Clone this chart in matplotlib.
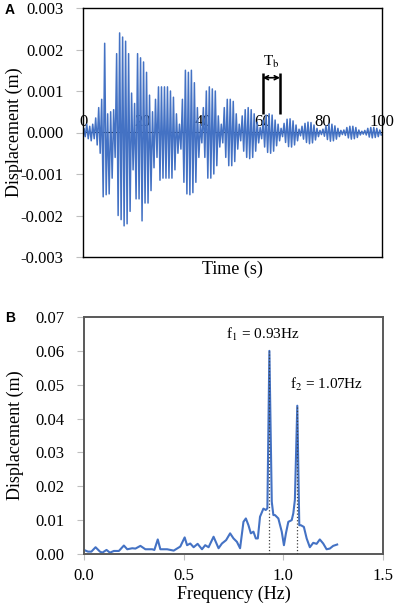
import numpy as np
import matplotlib
matplotlib.use('Agg')
import matplotlib.pyplot as plt
from matplotlib.ticker import FormatStrFormatter

# panel A: peak displacement of each ~1 s cycle (x1e-3 m)
pos_peaks = [0.1, 0.2, 0.15, 0.2, 0.35, 0.6, 0.8, 2.15, 0.45, 0.5,
             0.55, 1.9, 2.4, 2.3, 2.2, 1.9, 0.95, 0.7, 1.9, 1.8,
             1.7, 1.45, 0.9, 0.5, 0.8, 1.1, 1.1, 1.1, 1.1, 1.0,
             0.85, 0.45, 0.2, 0.8, 1.5, 1.45, 1.5, 1.2, 0.6, 0.2,
             0.6, 1.0, 1.1, 1.05, 1.0, 0.4, 0.2, 0.6, 0.8, 0.8,
             0.75, 0.45, 0.2, 0.4, 0.55, 0.6, 0.55, 0.45, 0.25, 0.12,
             0.3, 0.42, 0.45, 0.42, 0.3, 0.2, 0.1, 0.22, 0.32, 0.33,
             0.28, 0.18, 0.08, 0.15, 0.22, 0.25, 0.24, 0.18, 0.1, 0.05,
             0.08, 0.16, 0.2, 0.2, 0.16, 0.1, 0.05, 0.06, 0.12, 0.15,
             0.15, 0.12, 0.06, 0.03, 0.05, 0.1, 0.12, 0.12, 0.1, 0.06]
neg_peaks = [0.1, 0.15, 0.2, 0.15, 0.3, 0.5, 1.55, 1.5, 1.48, 1.1,
             0.6, 2.0, 2.1, 2.25, 2.2, 1.9, 0.9, 1.6, 1.6, 2.13,
             1.7, 1.7, 1.4, 0.85, 0.6, 1.15, 1.1, 1.1, 1.1, 1.1,
             0.9, 0.5, 0.4, 1.2, 1.48, 1.5, 1.45, 1.2, 0.6, 0.25,
             0.6, 1.1, 1.1, 1.0, 0.8, 0.35, 0.25, 0.6, 0.8, 0.8,
             0.7, 0.4, 0.2, 0.45, 0.6, 0.63, 0.6, 0.45, 0.25, 0.15,
             0.35, 0.48, 0.5, 0.45, 0.32, 0.2, 0.1, 0.24, 0.34, 0.35,
             0.3, 0.2, 0.08, 0.16, 0.24, 0.27, 0.25, 0.18, 0.1, 0.05,
             0.09, 0.17, 0.21, 0.2, 0.16, 0.1, 0.05, 0.07, 0.13, 0.16,
             0.15, 0.12, 0.06, 0.04, 0.06, 0.11, 0.13, 0.12, 0.1, 0.06]
tb_start, tb_end = 60.1, 65.9

# panel B: spectrum
freq = [0.0, 0.02, 0.037, 0.058, 0.08, 0.092, 0.113, 0.13, 0.15, 0.175,
        0.2, 0.217, 0.242, 0.258, 0.283, 0.308, 0.342, 0.353, 0.37, 0.383,
        0.417, 0.45, 0.483, 0.505, 0.517, 0.533, 0.55, 0.57, 0.592, 0.608,
        0.625, 0.65, 0.675, 0.692, 0.713, 0.733, 0.75, 0.767, 0.783, 0.8,
        0.812, 0.825, 0.837, 0.85, 0.862, 0.872, 0.883, 0.9, 0.912, 0.92,
        0.93, 0.942, 0.95, 0.958, 0.975, 0.992, 1.003, 1.013, 1.025, 1.042,
        1.05, 1.058, 1.07, 1.08, 1.088, 1.103, 1.117, 1.133, 1.15, 1.167,
        1.183, 1.2, 1.217, 1.233, 1.25, 1.27]
amp = [0.0012, 0.0007, 0.0007, 0.002, 0.0007, 0.0004, 0.0012, 0.0004, 0.0009, 0.0009,
       0.0025, 0.0014, 0.0017, 0.0016, 0.0024, 0.0014, 0.0014, 0.0012, 0.0043, 0.0014,
       0.0014, 0.001, 0.0022, 0.0049, 0.0026, 0.0031, 0.002, 0.003, 0.0014, 0.0026,
       0.002, 0.0051, 0.0017, 0.0031, 0.0041, 0.0061, 0.0046, 0.0036, 0.0017, 0.0095,
       0.0105, 0.0085, 0.0061, 0.0066, 0.0046, 0.0046, 0.011, 0.0134, 0.013, 0.0135,
       0.060, 0.0154, 0.0115, 0.0115, 0.0105, 0.0066, 0.0026, 0.0061, 0.0095, 0.01,
       0.012, 0.016, 0.0438, 0.0085, 0.0085, 0.008, 0.0046, 0.002, 0.0033, 0.003,
       0.0043, 0.0031, 0.0014, 0.0016, 0.0024, 0.0028]
f_peaks = [0.93, 1.07]
f_peak_amp = [0.060, 0.0438]

plt.rcParams['font.family'] = 'Liberation Serif'
plt.rcParams['mathtext.fontset'] = 'stix'
plt.rcParams['axes.unicode_minus'] = False

blue = '#4472C4'
fig = plt.figure(figsize=(3.97, 6.10), dpi=100)

# ---- A ----
axA = fig.add_axes([83/397, 1-257/610, 299/397, 249/610])
n = len(pos_peaks)
t = np.concatenate([[0.0], np.ravel(np.column_stack([np.arange(n)+0.25, np.arange(n)+0.75]))])
d = np.concatenate([[0.0], np.ravel(np.column_stack([np.array(pos_peaks), -np.array(neg_peaks)]))])*1e-3
axA.plot(t, d, color=blue, lw=1.1)
axA.set_xlim(0, 100)
axA.set_ylim(-0.003, 0.003)
axA.set_yticks(np.arange(-0.003, 0.0031, 0.001))
axA.yaxis.set_major_formatter(FormatStrFormatter('%.3f'))
axA.tick_params(axis='y', length=5, color='#bfbfbf', pad=9, labelsize=12)
axA.set_xticks([])
for s in axA.spines.values():
    s.set_color('black')
    s.set_linewidth(1.0)
sec = axA.secondary_xaxis(0.5)
sec.set_xticks([0, 20, 40, 60, 80, 100])
sec.tick_params(length=0, pad=2, labelsize=12)
sec.spines['bottom'].set_visible(False)
axA.set_xlabel('Time (s)', fontsize=13)
axA.xaxis.set_label_coords(0.5, -0.015)
axA.set_ylabel('Displacement (m)', fontsize=13)
axA.yaxis.set_label_coords(-0.20, 0.5)

# T_b marker
axA.vlines([tb_start, tb_end], 0.00045, 0.00143, color='black', lw=1.8)
axA.annotate('', xy=(tb_end, 0.00132), xytext=(tb_start, 0.00132),
             arrowprops=dict(arrowstyle='<->', lw=1.2, color='black',
                             shrinkA=0, shrinkB=0, mutation_scale=7))
axA.text((tb_start+tb_end)/2, 0.0017, 'T$_\\mathrm{b}$', ha='center', va='center', fontsize=11)

# ---- B ----
axB = fig.add_axes([84/397, 1-554/610, 299/397, 237/610])
axB.plot(freq, amp, color=blue, lw=1.5)
axB.vlines(f_peaks, 0, f_peak_amp, color='#404040', lw=0.9, linestyles=':', zorder=3)
axB.set_xlim(0, 1.5)
axB.set_ylim(0, 0.07)
axB.set_xticks([0.0, 0.5, 1.0, 1.5])
axB.set_yticks(np.arange(0, 0.071, 0.01))
axB.xaxis.set_major_formatter(FormatStrFormatter('%.1f'))
axB.yaxis.set_major_formatter(FormatStrFormatter('%.2f'))
axB.tick_params(axis='y', length=5, color='#bfbfbf', pad=9, labelsize=12)
axB.tick_params(axis='x', length=4, color='#bfbfbf', pad=6, labelsize=12)
for s in axB.spines.values():
    s.set_color('#595959')
    s.set_linewidth(1.4)
axB.set_xlabel('Frequency (Hz)', fontsize=13)
axB.xaxis.set_label_coords(0.5, -0.135)
axB.set_ylabel('Displacement (m)', fontsize=13)
axB.yaxis.set_label_coords(-0.20, 0.5)
axB.text(0.898, 0.0647, 'f$_1$ = 0.93Hz', ha='center', va='center', fontsize=11)
axB.text(1.214, 0.050, 'f$_2$ = 1.07Hz', ha='center', va='center', fontsize=11)

fig.text(5/397, 1-10/610, 'A', fontfamily='Liberation Sans', fontweight='bold', fontsize=10, va='center')
fig.text(5/397, 1-318/610, 'B', fontfamily='Liberation Sans', fontweight='bold', fontsize=10, va='center')

fig.savefig('out.png', dpi=100)
